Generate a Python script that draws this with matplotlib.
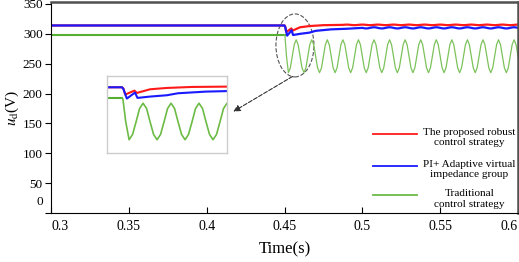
import numpy as np
import matplotlib
matplotlib.use("Agg")
from matplotlib import pyplot as plt
from matplotlib.patches import Ellipse
from matplotlib.transforms import ScaledTranslation

plt.rcParams['font.family'] = ['Liberation Serif', 'DejaVu Serif']
plt.rcParams['mathtext.fontset'] = 'stix'

# ----------------- data -----------------
# steady state before the disturbance at 0.45 s
t_pre = [0.30, 0.45]
red_pre = [314, 314]
blue_pre = [314, 314]
green_pre = [298, 298]

# transient right after 0.45 s
t_red_tr = [0.4505, 0.4511, 0.4544, 0.4553, 0.4600, 0.4660, 0.4750]
red_tr = [312, 303, 309, 305.5, 311, 313, 314.5]
t_blue_tr = [0.4505, 0.4517, 0.4546, 0.4555, 0.4600, 0.4660, 0.4700, 0.4800, 0.4900]
blue_tr = [311, 297, 306, 298, 300, 302, 305, 307.5, 308.5]
t_green_tr = [0.4503, 0.4513]
green_tr = [296, 262]

# one 10 ms period of the steady ripple, sampled every 1.25 ms
ripple_dt = 0.00125
green_start = 0.4525
green_cycle = [235, 243, 262, 282, 290, 282, 262, 243]
red_start = 0.4875
red_cycle = [315, 315.3, 315.5, 315.3, 315, 314.7, 314.5, 314.7]
blue_start = 0.50
blue_cycle = [310, 309.3, 309, 309.3, 310, 310.7, 311, 310.7]

labels = ['The proposed robust\ncontrol strategy',
          'PI+ Adaptive virtual\nimpedance group',
          'Traditional\ncontrol strategy']
colors = ['#ff1a1a', '#1a1aff', '#6cbb45']

xticks = [0.3, 0.35, 0.4, 0.45, 0.5, 0.55, 0.6]
xticklabels = ['0.3', '0.35', '0.4', '0.45', '0.5', '0.55', '0.6']
yticks = [0, 50, 100, 150, 200, 250, 300, 350]


def steady(start, cycle, end=0.605):
    # repeat the read period until the end of the time axis
    n = int(np.ceil((end - start) / (ripple_dt * len(cycle))))
    t = start + np.arange(n * len(cycle)) * ripple_dt
    return t, np.tile(cycle, n)


tg, gs = steady(green_start, green_cycle)
tr, rs = steady(red_start, red_cycle)
tb, bs = steady(blue_start, blue_cycle)

t_red = np.concatenate([t_pre, t_red_tr, tr])
v_red = np.concatenate([red_pre, red_tr, rs])
t_blue = np.concatenate([t_pre, t_blue_tr, tb])
v_blue = np.concatenate([blue_pre, blue_tr, bs])
t_green = np.concatenate([t_pre[-1:], t_green_tr, tg])
v_green = np.concatenate([green_pre[-1:], green_tr, gs])

# ----------------- main axes -----------------
fig = plt.figure(figsize=(5.19, 2.62), dpi=100)
ax = fig.add_axes([51 / 519, 49 / 262, 467 / 519, 211 / 262])

ax.plot(t_pre, green_pre, color='#55b032', lw=1.5)
ax.plot(t_green, v_green, color='#7cc25b', lw=0.9)
ax.plot(t_red, v_red, color=colors[0], lw=1.6)
ax.plot(t_blue, v_blue, color=colors[1], lw=1.6)

ax.set_xlim(0.3, 0.6)
ax.set_ylim(0, 353.3)
ax.set_xticks(xticks)
ax.set_xticklabels(xticklabels, fontsize=10)
ax.set_yticks(yticks)
ax.tick_params(axis='y', direction='out', length=4, labelsize=9.5, pad=2)
ax.tick_params(axis='x', direction='in', length=4, pad=5)
xl = ax.get_xticklabels()
xl[0].set_ha('left')
xl[-1].set_ha('right')
ylab0 = ax.get_yticklabels()[0]
ylab0.set_transform(ylab0.get_transform() + ScaledTranslation(0, 9 / 72, fig.dpi_scale_trans))

for s in ['top', 'right']:
    ax.spines[s].set_color('#505050')
    ax.spines[s].set_linewidth(1.8)

ax.set_xlabel('Time(s)', fontsize=12, labelpad=6)
ax.set_ylabel(r'$u_{\rm d}$(V)', fontsize=11)
ax.yaxis.set_label_coords(-0.064, 0.5)

# dashed ellipse marking the zoomed region + arrow to the inset
ax.add_patch(Ellipse((0.4567, 280.6), 0.0244, 105.5, fill=False,
                     ls='--', lw=0.8, ec='#555555'))
ax.annotate('', xy=(0.4156, 167.5), xytext=(0.4567, 231),
            arrowprops=dict(arrowstyle='-|>', ls='--', lw=0.8, color='#333333',
                            mutation_scale=10))

# legend drawn by hand so the text stays centred
leg_y = [0.376, 0.224, 0.086]
for c, lab, y in zip(colors, labels, leg_y):
    ax.plot([0.690, 0.784], [y, y], transform=ax.transAxes, color=c, lw=1.3)
    ax.text(0.896, y - 0.018, lab, transform=ax.transAxes, ha='center', va='center',
            multialignment='center', fontsize=8.1, linespacing=1.25)

# ----------------- inset -----------------
axin = fig.add_axes([107 / 519, 109 / 262, 120 / 519, 77 / 262])
axin.plot(t_pre, green_pre, color='#55b032', lw=1.5)
axin.plot(t_green, v_green, color='#6cbb45', lw=1.2)
axin.plot(t_red, v_red, color=colors[0], lw=1.5)
axin.plot(t_blue, v_blue, color=colors[1], lw=1.5)
axin.set_xlim(0.4446, 0.4875)
axin.set_ylim(215, 331)
axin.set_xticks([])
axin.set_yticks([])
for s in axin.spines.values():
    s.set_color('#cccccc')
    s.set_linewidth(1.0)

fig.savefig('out.png', dpi=100)
